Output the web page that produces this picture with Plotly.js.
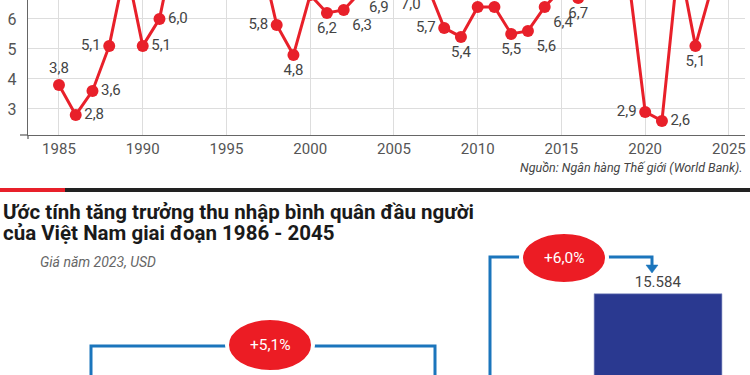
<!DOCTYPE html>
<html>
<head>
<meta charset="utf-8">
<script src="https://cdn.plot.ly/plotly-3.0.1.min.js"></script>
<style>html,body{margin:0;padding:0;background:#fff;}#chart{width:750px;height:375px;}</style>
</head>
<body>
<div id="chart"></div>
<script>
// ---- Data: Vietnam GDP growth (%), World Bank ----
const years = [1985,1986,1987,1988,1989,1990,1991,1992,1993,1994,1995,1996,1997,1998,1999,2000,2001,2002,2003,2004,2005,2006,2007,2008,2009,2010,2011,2012,2013,2014,2015,2016,2017,2018,2019,2020,2021,2022,2023,2024];
const growth = [3.8,2.8,3.6,5.1,7.8,5.1,6.0,8.7,8.1,8.8,9.5,9.3,8.2,5.8,4.8,6.8,6.2,6.3,6.9,7.5,7.5,7.0,7.1,5.7,5.4,6.4,6.4,5.5,5.6,6.4,7.0,6.7,6.9,7.5,7.4,2.9,2.6,8.0,5.1,7.1];
const xTickYears = [1985,1990,1995,2000,2005,2010,2015,2020,2025];
const yTickVals = [3,4,5,6];

// ---- Data: income per capita estimate (USD, 2023 prices) ----
const incomeYears = [1986, 2023, 2045];
const incomeUSD = [690, 4347, 15584];
const growthLabels = ['+5,1%', '+6,0%'];

// ---- Text ----
const titleLine1 = 'Ước tính tăng trưởng thu nhập bình quân đầu người';
const titleLine2 = 'của Việt Nam giai đoạn 1986 - 2045';
const subtitle = 'Giá năm 2023, USD';
const sourceNote = 'Nguồn: Ngân hàng Thế giới (World Bank).';

// ---- Styling: label placement per point ----
const labelPos = [
 'top center','middle right','middle right','middle left','top center',      // 1985-1989
 'middle right','middle right','top center','top center','top center',       // 1990-1994
 'top left','top right','top center','middle left','bottom center',          // 1995-1999
 'top center','bottom center','bottom right','bottom right','top left',      // 2000-2004
 'top right','bottom center','top center','middle left','bottom center',     // 2005-2009
 'top center','top right','bottom center','bottom right','bottom right',     // 2010-2014
 'top center','bottom center','top center','top left','top right',           // 2015-2019
 'middle left','middle right','top center','bottom center','top center'];    // 2020-2024

const W = 750, H = 375;
const px = x => x / W;
const py = y => 1 - y / H;
const RED = '#e8202a', BLUE = '#1b75bc', NAVY = '#2a3990';

const lineTrace = {
  type: 'scatter', mode: 'lines+markers+text',
  x: years, y: growth,
  texttemplate: '%{y:.1f}', textposition: labelPos,
  textfont: {family: 'Roboto', size: 15, color: '#444'},
  line: {color: RED, width: 3},
  marker: {color: RED, size: 12},
  cliponaxis: true, hoverinfo: 'skip',
  xaxis: 'x', yaxis: 'y'
};

const barTrace = {
  type: 'bar', x: incomeYears, y: incomeUSD,
  width: 13.3,
  marker: {color: NAVY, line: {color: '#8d96c8', width: 0.6}},
  texttemplate: '%{y:,}', textposition: 'outside',
  textfont: {family: 'Roboto', size: 15, color: '#444'},
  cliponaxis: false, hoverinfo: 'skip',
  xaxis: 'x2', yaxis: 'y2'
};

function line(x0,y0,x1,y1,color,width){
  return {type:'line', xref:'paper', yref:'paper', x0:px(x0), y0:py(y0), x1:px(x1), y1:py(y1), line:{color:color, width:width}};
}
function rect(x0,y0,x1,y1,color){
  return {type:'rect', xref:'paper', yref:'paper', x0:px(x0), y0:py(y0), x1:px(x1), y1:py(y1), fillcolor:color, line:{width:0}};
}
function pathPx(points, close){
  return points.map((p,i)=> (i===0?'M':'L') + px(p[0]).toFixed(5) + ',' + py(p[1]).toFixed(5)).join(' ') + (close?' Z':'');
}

const shapes = [
  // axis line extensions
  line(20,135,28,135,'#666',1.3),
  line(28,135,28,139,'#666',1.3),
  // separator bar
  rect(0,188,65,192,RED),
  rect(65,188,750,192,'#222'),
  // bracket 1 (1986 -> 2023)
  {type:'path', xref:'paper', yref:'paper', path: pathPx([[91,380],[91,346],[435,346],[435,380]]), line:{color:BLUE, width:3}},
  // bracket 2 (2023 -> 2045)
  {type:'path', xref:'paper', yref:'paper', path: pathPx([[490,380],[490,257],[652,257],[652,266]]), line:{color:BLUE, width:3}},
  {type:'path', xref:'paper', yref:'paper', path: pathPx([[646,265],[658,265],[652,273]], true), fillcolor:BLUE, line:{color:BLUE, width:0.5}},
  // ellipses
  {type:'circle', xref:'paper', yref:'paper', x0:px(227), x1:px(313), y0:py(318), y1:py(372), fillcolor:'#ec1c24', line:{color:'#fff', width:4}},
  {type:'circle', xref:'paper', yref:'paper', x0:px(521), x1:px(607), y0:py(232), y1:py(284), fillcolor:'#ec1c24', line:{color:'#fff', width:4}}
];

const annotations = [
  {xref:'paper', yref:'paper', x:px(745), y:py(167), xanchor:'right', yanchor:'middle', showarrow:false,
   text: sourceNote, font:{family:'Roboto', size:12.5, color:'#444', style:'italic'}},
  {xref:'paper', yref:'paper', x:px(1), y:py(212), xanchor:'left', yanchor:'middle', showarrow:false,
   text: titleLine1, font:{family:'Roboto', size:20.5, color:'#1a1a1a', weight:700}},
  {xref:'paper', yref:'paper', x:px(1), y:py(233), xanchor:'left', yanchor:'middle', showarrow:false,
   text: titleLine2, font:{family:'Roboto', size:20.5, color:'#1a1a1a', weight:700}},
  {xref:'paper', yref:'paper', x:px(38), y:py(262), xanchor:'left', yanchor:'middle', showarrow:false,
   text: subtitle, font:{family:'Roboto', size:14, color:'#666', style:'italic'}},
  {xref:'paper', yref:'paper', x:px(270), y:py(345), xanchor:'center', yanchor:'middle', showarrow:false,
   text: growthLabels[0], font:{family:'Roboto', size:15.5, color:'#fff'}},
  {xref:'paper', yref:'paper', x:px(564), y:py(258), xanchor:'center', yanchor:'middle', showarrow:false,
   text: growthLabels[1], font:{family:'Roboto', size:15.5, color:'#fff'}}
];

const layout = {
  width: W, height: H,
  margin: {l:0, r:0, t:0, b:0, pad:0},
  paper_bgcolor: '#fff', plot_bgcolor: '#fff',
  separators: ',.',
  showlegend: false,
  font: {family: 'Roboto', color: '#444'},
  xaxis: {
    domain: [28/W, 745/W], range: [1983.15, 2025.96], anchor: 'y',
    tickvals: xTickYears, ticks: '', showgrid: true, gridcolor: '#dddddd', gridwidth: 1,
    showline: true, linecolor: '#666', linewidth: 1.3, zeroline: false,
    tickfont: {family: 'Roboto', size: 15, color: '#555'}
  },
  yaxis: {
    domain: [1 - 135/H, 1], range: [2.13, 6.63], anchor: 'x',
    tickvals: yTickVals, ticks: '', showgrid: true, gridcolor: '#dddddd', gridwidth: 1,
    showline: true, linecolor: '#666', linewidth: 1.3, zeroline: false,
    ticklabelstandoff: 7,
    tickfont: {family: 'Roboto', size: 16, color: '#555'}
  },
  xaxis2: {domain: [0, 1], range: [1976.53, 2054.57], anchor: 'y2', visible: false},
  yaxis2: {domain: [0, 1/3], range: [11100, 18000], anchor: 'x2', visible: false},
  shapes: shapes,
  annotations: annotations
};

Plotly.newPlot('chart', [lineTrace, barTrace], layout, {staticPlot: true, displayModeBar: false});
</script>
</body>
</html>
